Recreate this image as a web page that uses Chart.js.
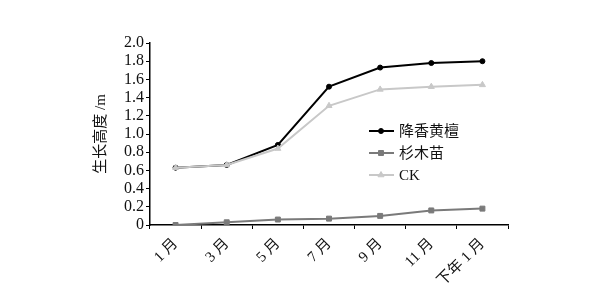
<!DOCTYPE html>
<html>
<head>
<meta charset="utf-8">
<script src="https://cdn.jsdelivr.net/npm/chart.js@4"></script>
<style>
html,body{margin:0;padding:0;background:#fff;}
#wrap{width:600px;height:300px;}
</style>
</head>
<body>
<div id="wrap"><canvas id="growthChart"></canvas></div>
<script>
const months = ["1 月", "3 月", "5 月", "7 月", "9 月", "11 月", "下年 1 月"];
const jiangxiang = [0.63, 0.66, 0.88, 1.52, 1.73, 1.78, 1.80];
const shanmu = [0.00, 0.03, 0.06, 0.07, 0.10, 0.16, 0.18];
const ck = [0.63, 0.66, 0.84, 1.31, 1.49, 1.52, 1.54];
const yTicks = [0, 0.2, 0.4, 0.6, 0.8, 1.0, 1.2, 1.4, 1.6, 1.8, 2.0];

const FONT = "'Liberation Serif', 'Noto Sans CJK SC', serif";

// legend drawn inside the plot, like the original
const insideLegend = {
  id: "insideLegend",
  afterDatasetsDraw(chart) {
    const ctx = chart.ctx;
    ctx.save();
    chart.data.datasets.forEach((ds, k) => {
      const y = 131 + k * 22;
      ctx.strokeStyle = ds.borderColor;
      ctx.fillStyle = ds.backgroundColor;
      ctx.lineWidth = 2;
      ctx.beginPath();
      ctx.moveTo(369, y);
      ctx.lineTo(394, y);
      ctx.stroke();
      ctx.lineWidth = 1;
      Chart.helpers.drawPoint(ctx, {
        pointStyle: ds.pointStyle,
        radius: ds.pointRadius,
        borderWidth: 1
      }, 381, y);
      ctx.fillStyle = "#111";
      ctx.font = "15px " + FONT;
      ctx.textBaseline = "middle";
      ctx.fillText(ds.label, 399, y + 1);
    });
    ctx.restore();
  }
};

new Chart(document.getElementById("growthChart"), {
  type: "line",
  data: {
    labels: months,
    datasets: [{
      label: "降香黄檀",
      data: jiangxiang,
      borderColor: "#000",
      backgroundColor: "#000",
      pointStyle: "circle",
      pointRadius: 2.5,
      pointBorderWidth: 1,
      borderWidth: 2,
      order: 1
    }, {
      label: "杉木苗",
      data: shanmu,
      borderColor: "#7a7a7a",
      backgroundColor: "#7a7a7a",
      pointStyle: "rect",
      pointRadius: 3.5,
      pointBorderWidth: 1,
      borderWidth: 2,
      order: 2
    }, {
      label: "CK",
      data: ck,
      borderColor: "#c8c8c8",
      backgroundColor: "#c8c8c8",
      pointStyle: "triangle",
      pointRadius: 3.5,
      pointBorderWidth: 1,
      borderWidth: 2,
      order: 0
    }]
  },
  options: {
    responsive: true,
    maintainAspectRatio: false,
    animation: false,
    layout: {padding: {left: 92, right: 92, top: 43, bottom: 0}},
    plugins: {legend: {display: false}, tooltip: {enabled: false}},
    scales: {
      x: {
        offset: true,
        grid: {offset: true, drawOnChartArea: false, tickLength: 4, color: "#000"},
        border: {color: "#000", width: 1.5},
        ticks: {
          minRotation: 45, maxRotation: 45, color: "#111", autoSkip: false,
          font: {family: FONT, size: 15}, padding: 6
        },
        afterFit(s) { s.height = 75; }
      },
      y: {
        min: 0, max: 2.0,
        afterBuildTicks(s) { s.ticks = yTicks.map(v => ({value: v})); },
        grid: {drawOnChartArea: false, tickLength: 4, color: "#000"},
        border: {color: "#000", width: 1.5},
        ticks: {
          color: "#111", font: {family: FONT, size: 16}, padding: 2, autoSkip: false,
          callback: v => v === 0 ? "0" : v.toFixed(1)
        },
        title: {
          display: true, text: "生长高度 /m", color: "#111",
          font: {family: FONT, size: 15}, padding: 0
        },
        afterFit(s) { s.width = 58; }
      }
    }
  },
  plugins: [insideLegend]
});
</script>
</body>
</html>
